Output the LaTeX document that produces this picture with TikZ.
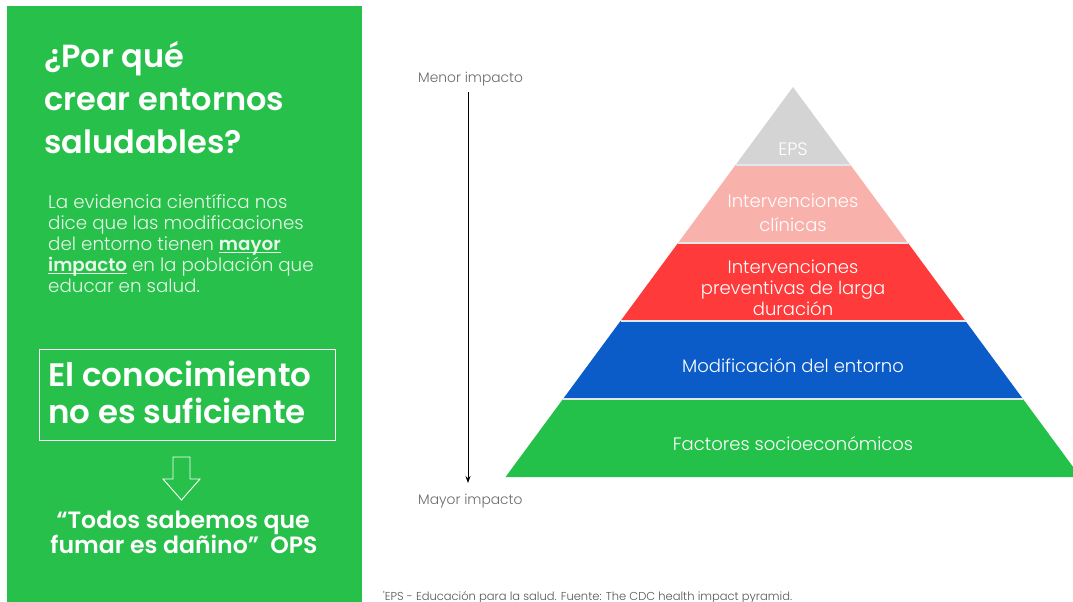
\documentclass[tikz,border=0pt]{standalone}
\usepackage{fontspec}
\setmainfont{Poppins}
\newfontfamily\lightfont{Poppins Light}
\newfontfamily\semifont{Poppins SemiBold}
\usetikzlibrary{arrows.meta}
\definecolor{panelgreen}{RGB}{38,192,74}
\definecolor{pgray}{RGB}{212,212,212}
\definecolor{ppink}{RGB}{249,177,172}
\definecolor{pred}{RGB}{255,58,58}
\definecolor{pblue}{RGB}{11,92,200}
\definecolor{pgreen}{RGB}{36,193,74}
\definecolor{txtgray}{RGB}{105,105,105}
\definecolor{paratext}{RGB}{232,248,234}
\definecolor{sepline}{RGB}{225,232,236}
\newcommand{\myul}[1]{\setbox0\hbox{#1}\rlap{\rule[-3pt]{\wd0}{1.1pt}}\box0\relax}
\tikzset{
  titleline/.style={anchor=base west, inner sep=0, text=white, font=\semifont\fontsize{32}{36}\selectfont},
  paraline/.style={anchor=base west, inner sep=0, text=paratext, font=\lightfont\fontsize{18.3}{21}\selectfont},
  boxline/.style={anchor=base west, inner sep=0, text=white, font=\semifont\fontsize{32.5}{38}\selectfont},
  quoteline/.style={anchor=base, inner sep=0, text=white, font=\semifont\fontsize{23.6}{27}\selectfont},
  sidelabel/.style={anchor=base west, inner sep=0, text=txtgray, font=\lightfont\fontsize{13.8}{17}\selectfont},
  bandtext/.style={text=white, align=center, inner sep=0, font=\lightfont\fontsize{18}{21}\selectfont},
}
\begin{document}
\begin{tikzpicture}[x=1pt,y=-1pt]
\useasboundingbox (0,0) rectangle (1073,602);
\clip (0,0) rectangle (1073,602);
% left panel
\fill[panelgreen] (7,6) rectangle (362,602);
\node[titleline] (t1) at (44,67) {¿Por qué};
\node[titleline] (t2) at (44,110) {crear entornos};
\node[titleline] (t3) at (44,153) {saludables?};
\node[paraline] (p1) at (48,208) {La evidencia científica nos};
\node[paraline] (p2) at (48,229) {dice que las modificaciones};
\node[paraline] (p3) at (48,250) {del entorno tienen \myul{\semifont mayor}};
\node[paraline] (p4) at (48,271) {\myul{\semifont impacto} en la población que};
\node[paraline] (p5) at (48,292) {educar en salud.};
\draw[white, line width=0.8pt] (39,349) rectangle (335,440);
\node[boxline] (b1) at (48,386) {El conocimiento};
\node[boxline] (b2) at (48,423) {no es suficiente};
\draw[white, line width=0.9pt, line join=miter] (173,457) -- (190,457) -- (190,479) -- (200,479) -- (181.5,500) -- (163,479) -- (173,479) -- cycle;
\node[quoteline] (q1) at (183,528) {“Todos sabemos que};
\node[quoteline] (q2) at (184,553) {fumar es dañino”\ \ OPS};
% axis
\node[sidelabel] (menor) at (418,82) {Menor impacto};
\node[sidelabel] (mayor) at (418,504) {Mayor impacto};
\coordinate (atop) at (468,92);
\coordinate (abot) at (468,483);
\draw[black, line width=0.8pt, -{Stealth[length=7pt,width=5pt]}] (atop) -- (abot);
% pyramid
\fill[pgreen] (505.5,477) -- (563,399) -- (1023,399) -- (1080.5,477) -- cycle;
\fill[pblue] (563,399) -- (620.5,321) -- (965.5,321) -- (1023,399) -- cycle;
\fill[pred] (620.5,321) -- (678,243) -- (908,243) -- (965.5,321) -- cycle;
\fill[ppink] (678,243) -- (735.5,165) -- (850.5,165) -- (908,243) -- cycle;
\fill[pgray] (735.5,165) -- (793,87) -- (850.5,165) -- cycle;
\draw[sepline, line width=1.5pt] (735.5,165) -- (850.5,165);
\draw[sepline, line width=1.5pt] (678,243) -- (908,243);
\draw[sepline, line width=1.5pt] (620.5,321) -- (965.5,321);
\draw[sepline, line width=1.5pt] (563,399) -- (1023,399);
\node[bandtext] (eps) at (793,149) {EPS};
\node[bandtext, font=\lightfont\fontsize{18}{24}\selectfont] (clin) at (793,213) {Intervenciones\\clínicas};
\node[bandtext] (prev) at (793,288) {Intervenciones\\preventivas de larga\\duración};
\node[bandtext] (mod) at (793,366) {Modificación del entorno};
\node[bandtext] (fac) at (793,444) {Factores socioeconómicos};
% footnote
\node[anchor=base west, inner sep=0, text=txtgray!80!black, font=\lightfont\fontsize{11.5}{13}\selectfont] (foot) at (383,600) {'EPS - Educación para la salud. Fuente: The CDC health impact pyramid.};
\end{tikzpicture}
\end{document}
